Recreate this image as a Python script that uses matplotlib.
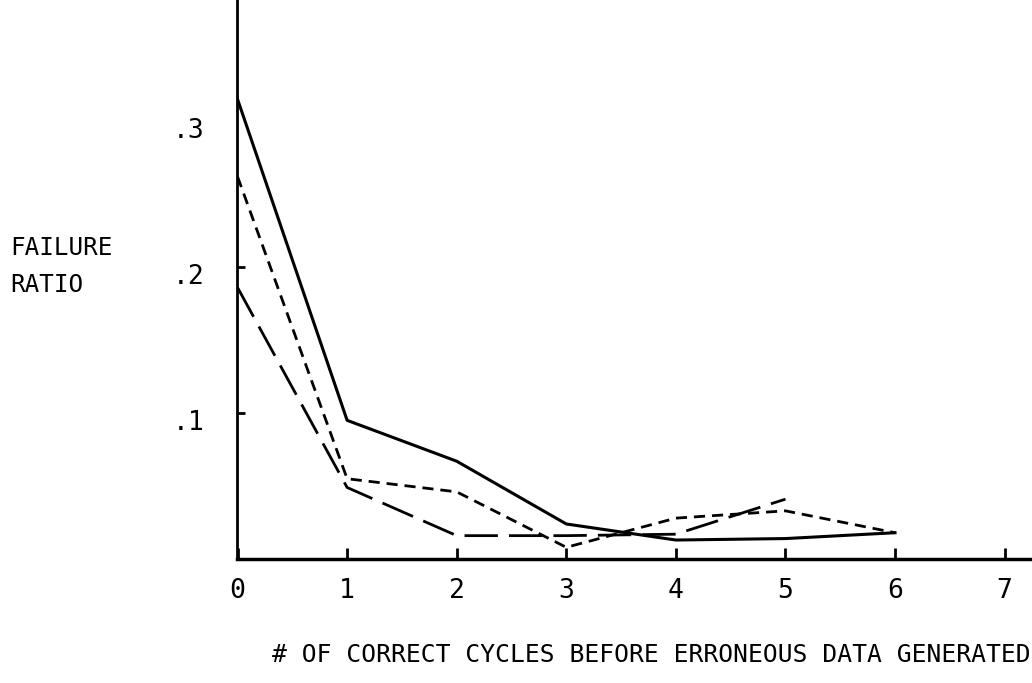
import matplotlib.pyplot as plt

# failure ratio vs. number of correct cycles before erroneous data
cycles = [0, 1, 2, 3, 4, 5, 6]
solid_ratio = [0.315, 0.095, 0.067, 0.024, 0.013, 0.014, 0.018]
short_dash_ratio = [0.262, 0.055, 0.046, 0.008, 0.028, 0.033, 0.018]
long_dash_cycles = [0, 1, 2, 3, 4, 5]
long_dash_ratio = [0.186, 0.049, 0.016, 0.016, 0.017, 0.041]

x_ticks = [0, 1, 2, 3, 4, 5, 6, 7]
y_ticks = [0.1, 0.2]
y_labels = [(0.1, '.1'), (0.2, '.2'), (0.3, '.3')]

plt.rcParams['font.family'] = ['DejaVu Sans Mono', 'DejaVu Sans']

fig = plt.figure(figsize=(10.32, 6.83), dpi=100)
ax = fig.add_axes([237 / 1032, 124 / 683, 1 - 237 / 1032, 559 / 683])

ax.plot(cycles, solid_ratio, color='black', lw=2.2)
ax.plot(cycles, short_dash_ratio, color='black', lw=2.0, dashes=(4, 2.5))
ax.plot(long_dash_cycles, long_dash_ratio, color='black', lw=2.0, dashes=(12, 4))

ax.set_xlim(-0.005, 7.25)
ax.set_ylim(0, 0.383)

for side in ['top', 'right']:
    ax.spines[side].set_visible(False)
ax.spines['left'].set_linewidth(2)
ax.spines['bottom'].set_linewidth(2.5)

ax.set_xticks(x_ticks)
ax.set_xticklabels([str(t) for t in x_ticks], fontsize=19)
ax.tick_params(axis='x', direction='in', length=8, width=2, pad=14)
ax.set_yticks(y_ticks)
ax.set_yticklabels([])
ax.tick_params(axis='y', direction='in', length=6, width=2)

for v, s in y_labels:
    ax.text(-0.45, v - 0.007, s, fontsize=19, ha='center', va='center')

fig.text(10 / 1032, 1 - 248 / 683, 'FAILURE', fontsize=17.5, ha='left', va='center')
fig.text(10 / 1032, 1 - 285 / 683, 'RATIO', fontsize=17.5, ha='left', va='center')
fig.text(272 / 1032, 1 - 655 / 683, '# OF CORRECT CYCLES BEFORE ERRONEOUS DATA GENERATED',
         fontsize=17.7, ha='left', va='center')

fig.savefig('out.png', dpi=100)
